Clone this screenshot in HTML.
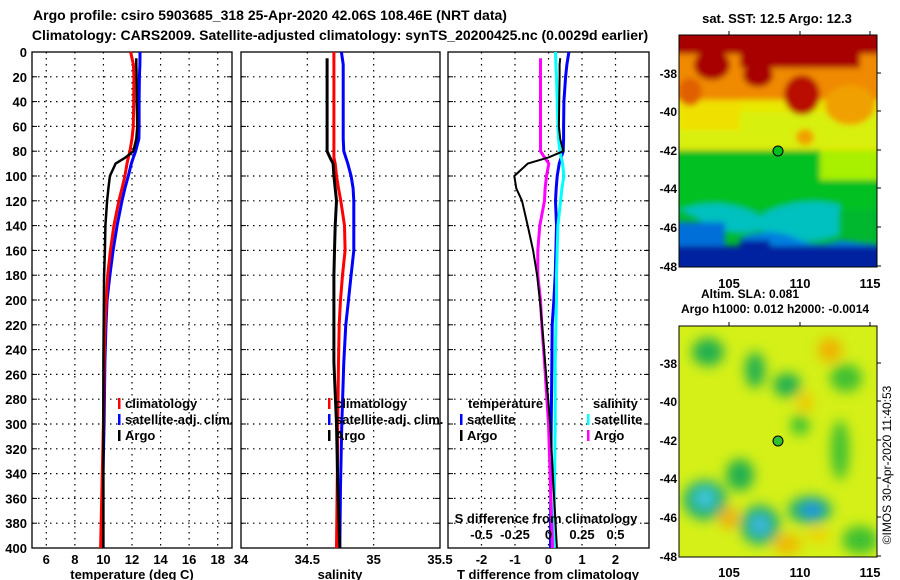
<!DOCTYPE html>
<html><head><meta charset="utf-8"><style>
body{margin:0;background:#fff;}
svg{display:block;font-family:"Liberation Sans",sans-serif;font-weight:bold;}
</style></head><body>
<svg id="fig" width="900" height="580" viewBox="0 0 900 580">
<defs>
<filter id="blr" x="-20%" y="-20%" width="140%" height="140%"><feGaussianBlur stdDeviation="3"/></filter>
<filter id="blr2" x="-30%" y="-30%" width="160%" height="160%"><feGaussianBlur stdDeviation="6"/></filter>
<clipPath id="c1"><rect x="679" y="35" width="198" height="232"/></clipPath>
<clipPath id="c2"><rect x="679" y="326" width="198" height="231"/></clipPath>
</defs>
<text x="270" y="20" font-size="14" text-anchor="middle">Argo profile: csiro 5903685_318 25-Apr-2020 42.06S 108.46E (NRT data)</text>
<text x="340" y="40" font-size="14" text-anchor="middle">Climatology: CARS2009. Satellite-adjusted climatology: synTS_20200425.nc (0.0029d earlier)</text>

<g>
<text x="777" y="23" font-size="13" text-anchor="middle">sat. SST: 12.5 Argo: 12.3</text>
<g clip-path="url(#c1)">
<rect x="679" y="35" width="198" height="232" fill="#00b830"/>
<g filter="url(#blr)">
<rect x="670" y="30" width="215" height="80" fill="#f08a00"/>
<rect x="670" y="100" width="215" height="52" fill="#e8e800"/>
<rect x="670" y="112" width="215" height="35" fill="#d8f010"/>
<rect x="680" y="100" width="60" height="30" fill="#f0e000"/>
<rect x="670" y="30" width="215" height="24" fill="#a80000"/>
<rect x="740" y="40" width="120" height="28" fill="#a80000"/>
<ellipse cx="712" cy="65" rx="18" ry="15" fill="#a80000"/>
<ellipse cx="758" cy="75" rx="15" ry="12" fill="#a80000"/>
<ellipse cx="802" cy="95" rx="18" ry="20" fill="#b81000"/>
<ellipse cx="690" cy="92" rx="12" ry="14" fill="#e06000"/>
<ellipse cx="850" cy="105" rx="25" ry="20" fill="#f0a000"/>
<ellipse cx="805" cy="137" rx="9" ry="8" fill="#f0a000"/>
<rect x="670" y="150" width="215" height="60" fill="#00c020"/>
<rect x="820" y="150" width="60" height="30" fill="#a8f000"/>
<path d="M679 210 Q720 195 760 215 Q800 195 840 205 L840 235 Q800 250 760 230 Q730 240 700 220 Z" fill="#00c0c0"/>
<rect x="670" y="222" width="55" height="30" fill="#0070d8"/>
<path d="M740 238 Q770 225 800 240 Q820 248 840 240 L880 245 L880 255 L740 255 Z" fill="#0080e0"/>
<rect x="670" y="246" width="215" height="25" fill="#0020a0"/>
<rect x="740" y="240" width="30" height="10" fill="#0020a0"/>
</g>
</g>
<rect x="679" y="35" width="198" height="232" fill="none" stroke="#000" stroke-width="1"/>
<circle cx="778" cy="151" r="5" fill="#00c020" stroke="#000" stroke-width="1"/>
<g stroke="#000" stroke-width="1">
<line x1="729" y1="31" x2="729" y2="35"/><line x1="800" y1="31" x2="800" y2="35"/><line x1="870" y1="31" x2="870" y2="35"/>
<line x1="877" y1="73" x2="881" y2="73"/><line x1="877" y1="111" x2="881" y2="111"/><line x1="877" y1="150" x2="881" y2="150"/><line x1="877" y1="188" x2="881" y2="188"/><line x1="877" y1="227" x2="881" y2="227"/><line x1="877" y1="266" x2="881" y2="266"/>
</g>
<g font-size="12" text-anchor="end">
<text x="677" y="78">-38</text>
<text x="677" y="116">-40</text><text x="677" y="155">-42</text><text x="677" y="193">-44</text><text x="677" y="232">-46</text><text x="677" y="271">-48</text>
</g>
<g font-size="13" text-anchor="middle">
<text x="729" y="288">105</text><text x="800" y="288">110</text><text x="870" y="288">115</text>
</g>
</g>

<g>
<text x="750" y="298" font-size="12" text-anchor="middle">Altim. SLA: 0.081</text>
<text x="775" y="313" font-size="12" text-anchor="middle">Argo h1000: 0.012 h2000: -0.0014</text>
<g clip-path="url(#c2)">
<rect x="679" y="326" width="198" height="231" fill="#d4f018"/>
<g filter="url(#blr2)">
<ellipse cx="708" cy="352" rx="16" ry="14" fill="#20b050"/>
<ellipse cx="755" cy="370" rx="10" ry="18" fill="#20b050"/>
<ellipse cx="787" cy="385" rx="14" ry="12" fill="#20b050"/>
<ellipse cx="800" cy="425" rx="9" ry="10" fill="#30c030"/>
<ellipse cx="846" cy="378" rx="16" ry="14" fill="#40c030"/>
<ellipse cx="840" cy="450" rx="9" ry="30" fill="#40c030"/>
<ellipse cx="740" cy="475" rx="14" ry="16" fill="#20b050"/>
<ellipse cx="705" cy="500" rx="22" ry="20" fill="#20b070"/>
<ellipse cx="705" cy="498" rx="10" ry="10" fill="#40c8e0"/>
<ellipse cx="760" cy="525" rx="20" ry="20" fill="#20b070"/>
<ellipse cx="760" cy="525" rx="9" ry="10" fill="#40b8e8"/>
<ellipse cx="810" cy="510" rx="22" ry="14" fill="#20b070"/>
<ellipse cx="812" cy="510" rx="10" ry="7" fill="#2090f0"/>
<ellipse cx="830" cy="350" rx="12" ry="12" fill="#f0b000"/>
<ellipse cx="805" cy="402" rx="8" ry="10" fill="#f0c800"/>
<ellipse cx="729" cy="518" rx="10" ry="11" fill="#f0b000"/>
<ellipse cx="787" cy="544" rx="14" ry="10" fill="#f0b800"/>
<ellipse cx="818" cy="535" rx="12" ry="7" fill="#f0d000"/>
<ellipse cx="860" cy="540" rx="18" ry="14" fill="#40c030"/>
</g>
</g>
<rect x="679" y="326" width="198" height="231" fill="none" stroke="#000" stroke-width="1"/>
<circle cx="778" cy="441" r="5" fill="#30c030" stroke="#000" stroke-width="1"/>
<g stroke="#000" stroke-width="1">
<line x1="729" y1="322" x2="729" y2="326"/><line x1="800" y1="322" x2="800" y2="326"/><line x1="870" y1="322" x2="870" y2="326"/>
<line x1="877" y1="363" x2="881" y2="363"/><line x1="877" y1="401" x2="881" y2="401"/><line x1="877" y1="440" x2="881" y2="440"/><line x1="877" y1="478" x2="881" y2="478"/><line x1="877" y1="517" x2="881" y2="517"/><line x1="877" y1="556" x2="881" y2="556"/>
</g>
<g font-size="12" text-anchor="end">
<text x="677" y="368">-38</text><text x="677" y="406">-40</text><text x="677" y="445">-42</text><text x="677" y="483">-44</text><text x="677" y="522">-46</text><text x="677" y="561">-48</text>
</g>
<g font-size="13" text-anchor="middle">
<text x="729" y="577">105</text><text x="800" y="577">110</text><text x="870" y="577">115</text>
</g>
<text transform="translate(891,465) rotate(-90)" font-size="12" font-weight="normal" text-anchor="middle">©IMOS 30-Apr-2020 11:40:53</text>
</g>
<g id="plots"></g>
</svg>
<script>
// depth grid (m)
const depthClim = [0,10,20,40,60,70,80,85,90,100,110,120,140,160,180,200,220,250,300,350,400];
const depthArgo = [5,10,20,40,60,70,80,85,90,100,110,120,140,160,180,200,220,250,300,350,400];
// temperature (deg C)
const tempClim = [11.9,12.1,12.13,12.12,12.09,12.0,11.85,11.75,11.65,11.5,11.3,11.08,10.73,10.49,10.3,10.2,10.12,10.05,10.0,9.9,9.8];
const tempSat  = [12.56,12.55,12.52,12.5,12.5,12.48,12.25,12.1,11.95,11.74,11.5,11.3,10.96,10.68,10.45,10.26,10.18,10.1,10.05,9.95,9.85];
const tempArgo = [12.3,12.3,12.32,12.33,12.37,12.3,12.1,11.55,10.85,10.45,10.35,10.26,10.14,10.1,10.05,10.03,10.02,10.0,10.0,10.0,10.0];
// salinity
const salClim = [34.70,34.70,34.70,34.70,34.70,34.70,34.70,34.70,34.71,34.72,34.735,34.752,34.78,34.785,34.765,34.75,34.74,34.735,34.73,34.725,34.72];
const salSat  = [34.757,34.77,34.77,34.77,34.77,34.77,34.775,34.79,34.805,34.83,34.845,34.85,34.85,34.85,34.83,34.81,34.79,34.775,34.76,34.75,34.745];
const salArgo = [34.649,34.649,34.649,34.649,34.649,34.649,34.649,34.67,34.694,34.70,34.71,34.72,34.71,34.705,34.70,34.70,34.70,34.70,34.72,34.73,34.745];
// differences from climatology
const dTempSat  = [0.61,0.55,0.51,0.46,0.45,0.45,0.44,0.38,0.32,0.26,0.23,0.21,0.24,0.22,0.2,0.16,0.11,0.1,0.08,0.07,0.06];
const dTempArgo = [0.35,0.33,0.33,0.32,0.31,0.35,0.44,0.0,-0.62,-1.02,-0.96,-0.79,-0.62,-0.46,-0.34,-0.26,-0.19,-0.1,0.05,0.15,0.25];
const dSalSat   = [0.052,0.055,0.06,0.065,0.07,0.075,0.085,0.095,0.105,0.115,0.1,0.09,0.07,0.065,0.06,0.06,0.055,0.05,0.05,0.045,0.04];
const dSalArgo  = [-0.06,-0.06,-0.06,-0.06,-0.06,-0.06,-0.06,-0.03,0.002,-0.015,-0.025,-0.03,-0.065,-0.08,-0.08,-0.06,-0.05,-0.03,0.0,0.015,0.03];
// ticks
const depthTicks = [0,20,40,60,80,100,120,140,160,180,200,220,240,260,280,300,320,340,360,380,400];
const tempTicks = [6,8,10,12,14,16,18];
const salTicks = [34,34.5,35,35.5];
const salTickLabels = ["34","34.5","35","35.5"];
const dTempTicks = [-2,-1,0,1,2];
const dSalTicks = [-0.5,-0.25,0,0.25,0.5];
const dSalTickLabels = ["-0.5","-0.25","0","0.25","0.5"];

const NS="http://www.w3.org/2000/svg";
const root=document.getElementById('plots');
const top0=52, bot0=548;
const yD = d => top0 + (d/400)*(bot0-top0);
function mk(tag, attrs, parent){const e=document.createElementNS(NS,tag);for(const k in attrs)e.setAttribute(k,attrs[k]);(parent||root).appendChild(e);return e;}
function lin(d0,d1,r0,r1){return v=>r0+(v-d0)/(d1-d0)*(r1-r0);}

const panels=[
 {x0:32,x1:232,sx:lin(5,19,32,232),name:'temperature-panel'},
 {x0:241,x1:440,sx:lin(34,35.5,241,440),name:'salinity-panel'},
 {x0:448,x1:649,sx:lin(-3,3,448,649),name:'difference-panel'}
];
const sxS = lin(-0.75,0.75,448,649);

panels.forEach((p,i)=>{
  const g=mk('g',{});
  
  
  depthTicks.forEach(d=>{
    if(d>0&&d<400){mk('line',{x1:p.x0,x2:p.x1,y1:yD(d),y2:yD(d),stroke:'#000','stroke-dasharray':'1.5,4.5','stroke-width':1.2},g);}
    mk('line',{x1:p.x0,x2:p.x0+5,y1:yD(d),y2:yD(d),stroke:'#000'},g);
    mk('line',{x1:p.x1-5,x2:p.x1,y1:yD(d),y2:yD(d),stroke:'#000'},g);
  });
  let ticks = i==0?tempTicks:(i==1?salTicks:dTempTicks);
  ticks.forEach(t=>{
    const x=p.sx(t);
    if(x>p.x0+1&&x<p.x1-1) mk('line',{x1:x,x2:x,y1:top0,y2:bot0,stroke:'#000','stroke-dasharray':'1.5,4.5','stroke-width':1.2},g);
  });
  mk('rect',{x:p.x0,y:top0,width:p.x1-p.x0,height:bot0-top0,fill:'none',stroke:'#000','stroke-width':1.3},g);
  p.g=g;
});

depthTicks.forEach(d=>{
  const t=mk('text',{x:27,y:yD(d)+5,'font-size':13,'text-anchor':'end'});
  t.textContent=d;
  
  
});
tempTicks.forEach(v=>{const t=mk('text',{x:panels[0].sx(v),y:564,'font-size':13,'text-anchor':'middle'});t.textContent=v;
  
  });
salTicks.forEach((v,i)=>{const t=mk('text',{x:panels[1].sx(v),y:564,'font-size':13,'text-anchor':'middle'});t.textContent=salTickLabels[i];
  
  });
dTempTicks.forEach(v=>{const t=mk('text',{x:panels[2].sx(v),y:564,'font-size':13,'text-anchor':'middle'});t.textContent=v;
  
  });
dSalTicks.forEach((v,i)=>{const t=mk('text',{x:sxS(v),y:539,'font-size':13,'text-anchor':'middle'});t.textContent=dSalTickLabels[i];
  
  });
[[132,'temperature (deg C)','temperature-axis-title'],[340,'salinity','salinity-axis-title'],[548,'T difference from climatology','tdiff-axis-title']].forEach(a=>{
  const t=mk('text',{x:a[0],y:579,'font-size':13,'text-anchor':'middle'});t.textContent=a[1];
  
  
});
const sd=mk('text',{x:546,y:523,'font-size':13,'text-anchor':'middle'});sd.textContent='S difference from climatology';



function series(g,depths,vals,sx,color,w,name){
  const pts=depths.map((d,i)=>sx(vals[i]).toFixed(1)+','+yD(d).toFixed(1)).join(' ');
  const l=mk('polyline',{points:pts,fill:'none',stroke:color,'stroke-width':w,'stroke-linejoin':'round'},g);
  
  
}
const P=panels;
series(P[0].g,depthClim,tempSat,P[0].sx,'#0000ff',3,'temp-satellite-line');
series(P[0].g,depthClim,tempClim,P[0].sx,'#ff0000',3,'temp-climatology-line');
series(P[0].g,depthArgo,tempArgo,P[0].sx,'#000',2.5,'temp-argo-line');
series(P[1].g,depthClim,salSat,P[1].sx,'#0000ff',3,'sal-satellite-line');
series(P[1].g,depthClim,salClim,P[1].sx,'#ff0000',3,'sal-climatology-line');
series(P[1].g,depthArgo,salArgo,P[1].sx,'#000',3,'sal-argo-line');
series(P[2].g,depthClim,dTempSat,P[2].sx,'#0000ff',3,'tdiff-satellite-line');
series(P[2].g,depthClim,dSalSat,sxS,'#00ffff',3,'sdiff-satellite-line');
series(P[2].g,depthArgo,dSalArgo,sxS,'#ff00ff',3,'sdiff-argo-line');
series(P[2].g,depthArgo,dTempArgo,P[2].sx,'#000',2,'tdiff-argo-line');

function legend(x,y,color,label,name){
  mk('rect',{x:x,y:y-10,width:2.5,height:11,fill:color});
  const t=mk('text',{x:x+7,y:y,'font-size':13});t.textContent=label;
  
  
}
legend(118,408,'#ff0000','climatology','legend-climatology');
legend(118,424,'#0000ff','satellite-adj. clim.','legend-satellite');
legend(118,440,'#000','Argo','legend-argo');
legend(328,408,'#ff0000','climatology','legend-climatology-2');
legend(328,424,'#0000ff','satellite-adj. clim.','legend-satellite-2');
legend(328,440,'#000','Argo','legend-argo-2');
const lt=mk('text',{x:468,y:408,'font-size':13});lt.textContent='temperature';


const ls=mk('text',{x:593,y:408,'font-size':13});ls.textContent='salinity';


legend(460,424,'#0000ff','satellite','legend-tdiff-satellite');
legend(460,440,'#000','Argo','legend-tdiff-argo');
legend(587,424,'#00ffff','satellite','legend-sdiff-satellite');
legend(587,440,'#ff00ff','Argo','legend-sdiff-argo');
</script>
</body></html>
